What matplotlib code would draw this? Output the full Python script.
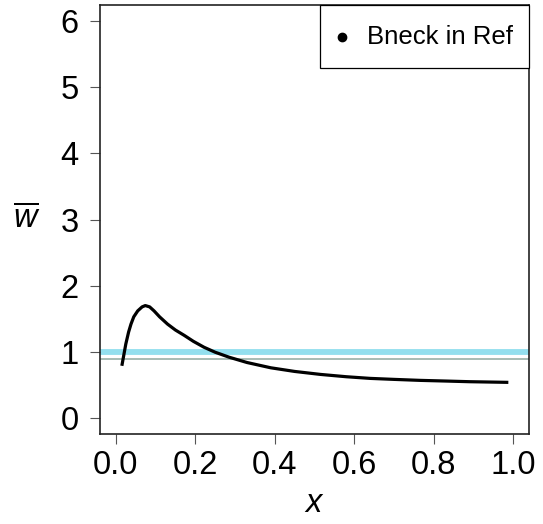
import matplotlib
matplotlib.use("Agg")
import matplotlib.pyplot as plt
from matplotlib.patches import Rectangle

plt.rcParams['font.family'] = ['Liberation Sans', 'DejaVu Sans']
plt.rcParams['mathtext.fontset'] = 'custom'
plt.rcParams['mathtext.it'] = 'Liberation Sans:italic'
plt.rcParams['mathtext.rm'] = 'Liberation Sans'

# Data
x_vals = [0.015, 0.025, 0.032, 0.038, 0.045, 0.055, 0.066, 0.074, 0.085, 0.096, 0.11, 0.13,
          0.15, 0.172, 0.195, 0.222, 0.25, 0.285, 0.33, 0.39, 0.45, 0.515, 0.58, 0.64, 0.70,
          0.766, 0.83, 0.89, 0.988]
w_vals = [0.79, 1.12, 1.30, 1.42, 1.53, 1.62, 1.68, 1.70, 1.68, 1.62, 1.53, 1.42,
          1.33, 1.25, 1.16, 1.07, 0.995, 0.92, 0.84, 0.76, 0.705, 0.66, 0.625, 0.600, 0.585,
          0.57, 0.56, 0.55, 0.54]
ref_level = 1.0
grey_level = 0.9
x_ticks = [0.0, 0.2, 0.4, 0.6, 0.8, 1.0]
x_tick_labels = ["0.0", "0.2", "0.4", "0.6", "0.8", "1.0"]
y_ticks = [0, 1, 2, 3, 4, 5, 6]
legend_label = "Bneck in Ref"

fig = plt.figure(figsize=(5.43, 5.24), dpi=100)
ax = fig.add_axes([100/543, 1-434/524, 429/543, 429/524])

ax.axhline(ref_level, color='#93DFEE', lw=4.2, zorder=1)
ax.axhline(grey_level, color='#8FA89F', lw=1.1, zorder=1)
ax.plot(x_vals, w_vals, color='black', lw=2.3, zorder=3, solid_capstyle='butt',
        solid_joinstyle='round')

ax.set_xlim(-0.04, 1.04)
ax.set_ylim(-0.24, 6.24)
ax.set_xticks(x_ticks)
ax.set_xticklabels(x_tick_labels)
ax.set_yticks(y_ticks)
ax.tick_params(axis='both', direction='out', length=7.5, width=0.8, color='#555555',
               labelsize=23.5)
ax.tick_params(axis='x', pad=4)
ax.tick_params(axis='y', pad=8)
for s in ax.spines.values():
    s.set_linewidth(1.2)
    s.set_color('#222222')

ax.set_xlabel(r'$x$', fontsize=23.5, labelpad=5)
ax.set_ylabel(r'$\overline{w}$', fontsize=23.5, rotation=0, labelpad=24, va='center')

# R-style legend box in the top-right corner
box_x0 = (320 - 100) / 429
box_h = 63 / 429
ax.add_patch(Rectangle((box_x0, 1 - box_h), 1 - box_x0, box_h, transform=ax.transAxes,
                       facecolor='white', edgecolor='black', lw=0.9, zorder=5,
                       clip_on=False))
leg_y = 1 - 32 / 429
ax.plot([(342 - 100) / 429], [leg_y], marker='o', color='black', markersize=6,
        linestyle='None', transform=ax.transAxes, zorder=6, clip_on=False)
ax.text((367 - 100) / 429, leg_y, legend_label, transform=ax.transAxes, fontsize=18.5,
        ha='left', va='center', zorder=6)

fig.savefig("out.png", dpi=100)
